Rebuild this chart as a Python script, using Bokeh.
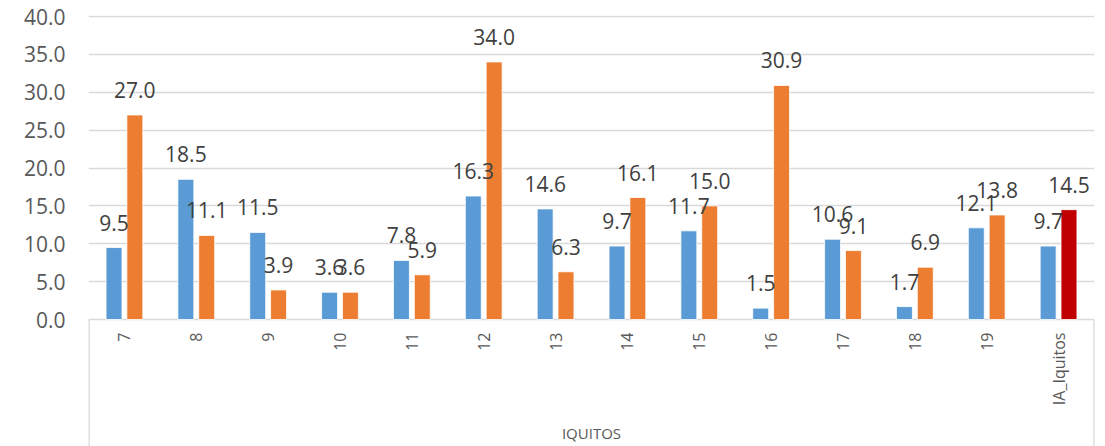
import math
from bokeh.plotting import figure
from bokeh.models import ColumnDataSource, FactorRange, Range1d, FixedTicker, PrintfTickFormatter, Label
from bokeh.transform import dodge
from bokeh.core.properties import value
from bokeh.embed import file_html
from bokeh.resources import INLINE

# ---- data ----
categories = ["7", "8", "9", "10", "11", "12", "13", "14", "15", "16", "17", "18", "19", "IA_Iquitos"]
series_blue = [9.5, 18.5, 11.5, 3.6, 7.8, 16.3, 14.6, 9.7, 11.7, 1.5, 10.6, 1.7, 12.1, 9.7]
series_orange = [27.0, 11.1, 3.9, 3.6, 5.9, 34.0, 6.3, 16.1, 15.0, 30.9, 9.1, 6.9, 13.8, 14.5]
group_label = "IQUITOS"
y_ticks = [0, 5, 10, 15, 20, 25, 30, 35, 40]

# ---- styles ----
BLUE = "#5B9BD5"
ORANGE = "#ED7D31"
RED = "#C00000"
GRID = "#D9D9D9"
LABEL = "#404040"
AXIS_TXT = "#595959"
FONT = "Open Sans"
orange_colors = [ORANGE] * (len(categories) - 1) + [RED]

src = ColumnDataSource(dict(
    cat=categories,
    blue=series_blue,
    orange=series_orange,
    blue_lbl=["%.1f" % v for v in series_blue],
    orange_lbl=["%.1f" % v for v in series_orange],
    ocolor=orange_colors,
))

W, H = 1105, 446
TOP, ZERO, LEFT, RIGHT = 15, 319, 88, 1094
k = (ZERO - 16) / 40.0
y_end = 40 + (16 - TOP) / k
y_start = -(H - ZERO) / k

p = figure(width=W, height=H, x_range=FactorRange(*categories, range_padding=0),
           y_range=Range1d(y_start, y_end), output_backend="svg", toolbar_location=None,
           x_axis_location=None, min_border_left=LEFT, min_border_right=W - RIGHT,
           min_border_top=TOP, min_border_bottom=0)
p.outline_line_color = None
p.background_fill_color = "white"

# grid & y axis
p.ygrid.ticker = FixedTicker(ticks=y_ticks)
p.ygrid.grid_line_color = GRID
p.ygrid.grid_line_width = 1.3
p.xgrid.visible = False
yax = p.yaxis[0]
yax.ticker = FixedTicker(ticks=y_ticks)
yax.formatter = PrintfTickFormatter(format="%.1f")
yax.axis_line_color = None
yax.major_tick_line_color = None
yax.minor_tick_line_color = None
yax.major_tick_out = 0
yax.major_tick_in = 0
yax.major_label_standoff = 23
yax.major_label_text_font = FONT
yax.major_label_text_font_size = "21px"
yax.major_label_text_color = AXIS_TXT

off = 0.145
bw = 0.222
p.vbar(x=dodge("cat", -off, range=p.x_range), top="blue", width=bw, source=src,
       fill_color=BLUE, line_color="white", line_width=0.8)
p.vbar(x=dodge("cat", off, range=p.x_range), top="orange", width=bw, source=src,
       fill_color="ocolor", line_color="white", line_width=0.8)

# data labels
for col, lbl, o in (("blue", "blue_lbl", -off), ("orange", "orange_lbl", off)):
    p.text(x=dodge("cat", o, range=p.x_range), y=col, text=lbl, source=src,
           text_align="center", text_baseline="alphabetic", y_offset=-25,
           text_font=value(FONT), text_font_size="21px", text_color=LABEL)

# category labels (rotated)
p.text(x="cat", y=0, text="cat", source=src, angle=math.pi / 2,
       text_align="right", text_baseline="middle", y_offset=13,
       text_font=value(FONT), text_font_size="16px", text_color=AXIS_TXT)

# group frame lines
n = len(categories)
p.segment(x0=[0, n], y0=[0, 0], x1=[0, n], y1=[y_start, y_start],
          line_color=GRID, line_width=2.5)

p.add_layout(Label(x=n / 2, y=-(432 - ZERO) / k, text=group_label, text_align="center",
                   text_baseline="middle", text_font=FONT, text_font_size="15px",
                   text_color=AXIS_TXT))

open("out.html", "w").write(file_html(p, INLINE))
